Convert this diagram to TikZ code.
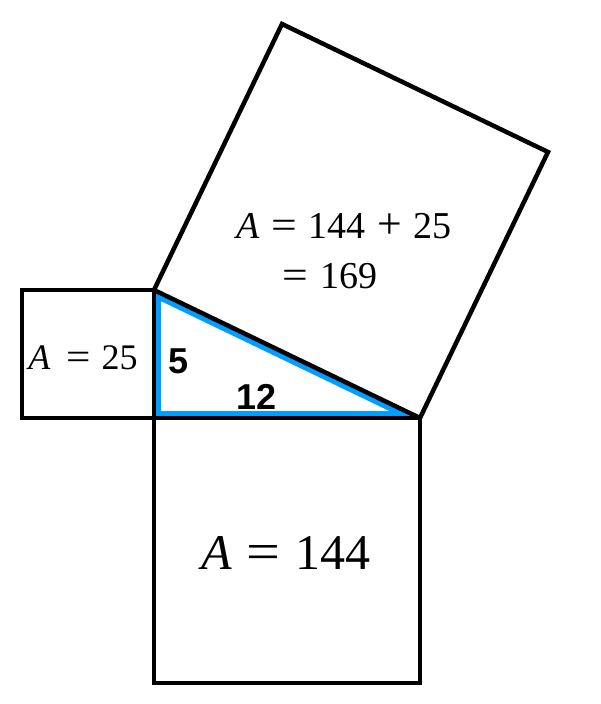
\documentclass[tikz,border=0pt]{standalone}
\usepackage{fontspec}
\usepackage{graphicx}
\setmainfont{Liberation Serif}
\newfontfamily\labelfont{Liberation Sans}
\definecolor{legblue}{RGB}{0,158,255}
\tikzset{
  sq/.style={draw=black, line width=4.5pt, line join=miter},
  area/.style={font=\fontsize{#1}{#1}\selectfont, inner sep=0pt, anchor=base},
  leg/.style={font=\labelfont\bfseries\fontsize{36}{36}\selectfont, inner sep=0pt},
}
\newcommand{\gapsp}{\hspace{0.3em}}
\newcommand{\eqs}{\scalebox{1.2}[1.05]{=}}
\newcommand{\pls}{\scalebox{1.15}[1.15]{+}}
\begin{document}
\begin{tikzpicture}[x=1pt,y=-1pt]
\useasboundingbox (0,0) rectangle (600,704);
\coordinate (A) at (154,290);
\coordinate (B) at (154,418);
\coordinate (C) at (420,418);
\coordinate (D) at (282,24);
\coordinate (E) at (548,152);
\coordinate (L1) at (22,290);
\coordinate (L2) at (22,418);
\coordinate (F) at (154,683);
\coordinate (G) at (420,683);
% blue inner band of the triangle
\begin{scope}
  \clip (A) -- (B) -- (C) -- cycle;
  \draw[legblue, line width=14pt, line join=round] (A) -- (B) -- (C) -- cycle;
\end{scope}
% squares
\draw[sq] (L1) -- (A) -- (B) -- (L2) -- cycle;
\draw[sq] (B) -- (C) -- (G) -- (F) -- cycle;
\draw[sq] (A) -- (D) -- (E) -- (C) -- cycle;
% texts
\node[area=36] (t25) at (83,369) {\itshape A\hspace{0.45em}\upshape\eqs\hspace{0.3em}25};
\node[area=38] (t169a) at (344,238) {\itshape A\gapsp\upshape\eqs\gapsp144\gapsp\pls\gapsp25};
\node[area=38] (t169b) at (330,288) {\eqs\gapsp169};
\node[area=50] (t144) at (286,569) {\itshape A\gapsp\upshape\eqs\gapsp144};
\node[leg] (l5) at (179,361) {5};
\node[leg] (l12) at (257,397) {12};
\end{tikzpicture}
\end{document}
